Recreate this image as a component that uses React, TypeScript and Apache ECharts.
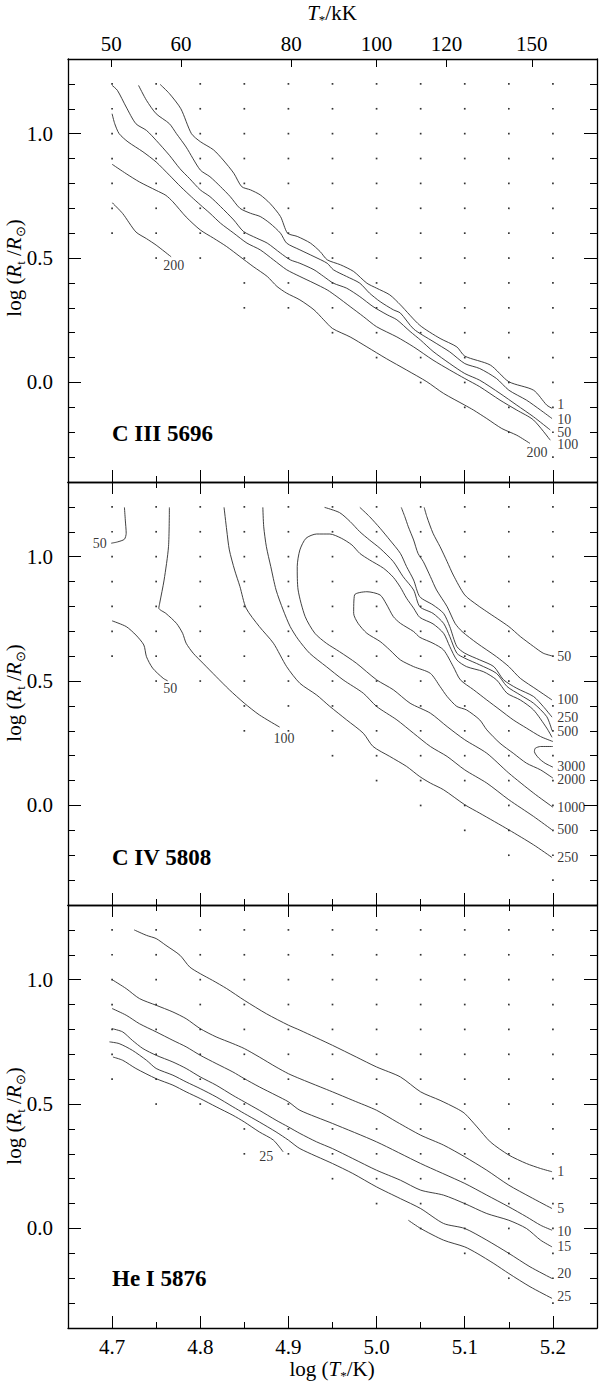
import React, { useEffect, useRef } from "react";
import * as echarts from "echarts";

const SERIF = '"Liberation Serif", "Times New Roman", serif';

// ---- model grid (dots) ----
const gridLogT = [4.7, 4.75, 4.8, 4.85, 4.9, 4.95, 5.0, 5.05, 5.1, 5.15, 5.2];
const gridLowLogR = [0.6, 0.5, 0.5, 0.3, 0.3, 0.2, 0.1, 0.0, -0.1, -0.2, -0.3];
const gridTopLogR = 1.2;

// ---- axis ticks ----
const xMajor = [4.7, 4.8, 4.9, 5.0, 5.1, 5.2];
const xMinor = [4.75, 4.85, 4.95, 5.05, 5.15];
const yMajor = [0, 0.5, 1.0];
const yMinor = [-0.3, -0.2, -0.1, 0.1, 0.2, 0.3, 0.4, 0.6, 0.7, 0.8, 0.9, 1.1, 1.2];
const topTkK = [50, 60, 80, 100, 120, 150];

// ---- C III 5696 contours ----
const c3_1 = [[4.7545,1.198],[4.765,1.161],[4.778,1.1],[4.79,1.0],[4.8,0.968],[4.815,0.935],[4.826,0.894],[4.838,0.841],[4.847,0.787],[4.857,0.774],[4.868,0.754],[4.879,0.72],[4.891,0.667],[4.899,0.6],[4.91,0.587],[4.925,0.56],[4.936,0.526],[4.944,0.493],[4.959,0.473],[4.974,0.446],[4.989,0.399],[5.0,0.379],[5.015,0.352],[5.027,0.312],[5.049,0.23],[5.072,0.177],[5.091,0.143],[5.1,0.106],[5.129,0.07],[5.15,0.003],[5.178,-0.031],[5.193,-0.091],[5.199,-0.104]];
const c3_10 = [[4.73,1.194],[4.739,1.134],[4.75,1.08],[4.765,1.04],[4.773,1.0],[4.784,0.946],[4.8,0.854],[4.811,0.827],[4.823,0.787],[4.834,0.747],[4.845,0.7],[4.857,0.68],[4.868,0.667],[4.879,0.64],[4.891,0.6],[4.898,0.56],[4.913,0.533],[4.929,0.506],[4.944,0.479],[4.951,0.453],[4.966,0.426],[4.981,0.399],[4.992,0.359],[5.004,0.325],[5.019,0.292],[5.027,0.279],[5.042,0.215],[5.064,0.165],[5.083,0.123],[5.1,0.076],[5.117,0.056],[5.136,0.016],[5.15,-0.031],[5.17,-0.071],[5.186,-0.111],[5.199,-0.145]];
const c3_50 = [[4.7,1.194],[4.706,1.174],[4.716,1.107],[4.727,1.04],[4.739,1.013],[4.75,0.973],[4.765,0.913],[4.777,0.859],[4.788,0.819],[4.8,0.774],[4.811,0.747],[4.823,0.707],[4.838,0.653],[4.849,0.607],[4.864,0.58],[4.876,0.56],[4.891,0.52],[4.902,0.493],[4.913,0.479],[4.929,0.453],[4.94,0.426],[4.951,0.399],[4.966,0.379],[4.981,0.345],[4.996,0.305],[5.012,0.272],[5.023,0.252],[5.038,0.205],[5.05,0.17],[5.064,0.125],[5.083,0.076],[5.1,0.036],[5.117,0.009],[5.14,-0.044],[5.159,-0.091],[5.178,-0.138],[5.197,-0.191]];
const c3_100 = [[4.7,1.08],[4.703,1.04],[4.708,1.0],[4.718,0.967],[4.735,0.927],[4.75,0.886],[4.765,0.833],[4.778,0.786],[4.79,0.746],[4.8,0.714],[4.811,0.68],[4.823,0.64],[4.838,0.6],[4.853,0.56],[4.868,0.533],[4.883,0.493],[4.898,0.453],[4.913,0.426],[4.929,0.399],[4.944,0.372],[4.955,0.345],[4.97,0.305],[4.985,0.265],[5.0,0.224],[5.023,0.183],[5.042,0.143],[5.064,0.09],[5.083,0.05],[5.1,0.016],[5.117,-0.017],[5.14,-0.071],[5.159,-0.111],[5.178,-0.151],[5.197,-0.232]];
const c3_200 = [[4.7,0.877],[4.716,0.839],[4.731,0.806],[4.75,0.772],[4.761,0.752],[4.769,0.726],[4.784,0.665],[4.8,0.613],[4.815,0.58],[4.83,0.546],[4.845,0.506],[4.86,0.466],[4.876,0.426],[4.887,0.386],[4.898,0.359],[4.913,0.332],[4.929,0.292],[4.94,0.252],[4.95,0.217],[4.97,0.183],[4.989,0.143],[5.011,0.096],[5.034,0.05],[5.057,0.003],[5.076,-0.044],[5.1,-0.091],[5.11,-0.111],[5.125,-0.145],[5.142,-0.185],[5.159,-0.212],[5.174,-0.245]];
const c3_200s = [[4.7,0.723],[4.712,0.679],[4.727,0.605],[4.739,0.578],[4.75,0.552],[4.767,0.505]];
const c3Labels = ["1", "10", "50", "100", "200", "200"];
const c3LabelX = [5.205, 5.205, 5.205, 5.205, 5.17, 4.758];
const c3LabelY = [-0.09, -0.147, -0.2, -0.25, -0.28, 0.471];

// ---- C IV 5808 contours ----
const c4_50a = [[4.714,1.198],[4.715,1.147],[4.716,1.094],[4.714,1.07],[4.706,1.059],[4.699,1.054]];
const c4_50b = [[4.7,0.742],[4.716,0.719],[4.727,0.685],[4.736,0.645],[4.739,0.598],[4.746,0.552],[4.758,0.511],[4.763,0.501]];
const c4_100a = [[4.765,1.198],[4.764,1.04],[4.759,0.906],[4.754,0.813],[4.753,0.793],[4.761,0.772],[4.773,0.732],[4.78,0.692],[4.784,0.652],[4.792,0.612],[4.803,0.572],[4.818,0.518],[4.833,0.465],[4.85,0.411],[4.867,0.364],[4.89,0.315]];
const c4_250a = [[4.827,1.198],[4.83,1.107],[4.833,1.027],[4.839,0.946],[4.845,0.88],[4.852,0.793],[4.867,0.719],[4.883,0.652],[4.898,0.558],[4.913,0.491],[4.932,0.444],[4.947,0.398],[4.966,0.344],[4.985,0.29],[4.996,0.237],[5.015,0.197],[5.034,0.157],[5.049,0.116],[5.061,0.09],[5.076,0.063],[5.1,0.003],[5.117,-0.031],[5.15,-0.098],[5.178,-0.158],[5.199,-0.209]];
const c4_500a = [[4.871,1.198],[4.872,1.12],[4.875,1.04],[4.88,0.96],[4.886,0.866],[4.894,0.786],[4.902,0.719],[4.911,0.668],[4.924,0.612],[4.943,0.558],[4.962,0.505],[4.985,0.451],[5.0,0.398],[5.023,0.344],[5.042,0.29],[5.061,0.237],[5.08,0.197],[5.1,0.143],[5.125,0.09],[5.15,0.023],[5.178,-0.044],[5.199,-0.098]];
const c4_1000 = [[5.199,0.274],[5.193,0.311],[5.178,0.384],[5.163,0.424],[5.148,0.451],[5.136,0.505],[5.121,0.538],[5.102,0.558],[5.091,0.585],[5.083,0.639],[5.076,0.692],[5.064,0.73],[5.049,0.756],[5.042,0.793],[5.034,0.833],[5.027,0.877],[5.019,0.917],[5.008,0.953],[4.992,0.987],[4.981,1.013],[4.972,1.047],[4.96,1.074],[4.947,1.091],[4.932,1.091],[4.92,1.074],[4.913,1.027],[4.91,0.96],[4.911,0.866],[4.919,0.759],[4.93,0.692],[4.943,0.652],[4.958,0.618],[4.977,0.572],[5.0,0.505],[5.019,0.465],[5.038,0.411],[5.061,0.371],[5.08,0.317],[5.1,0.264],[5.125,0.21],[5.15,0.13],[5.178,0.05],[5.2,-0.007]];
const c4_2000 = [[5.2,0.257],[5.186,0.277],[5.17,0.311],[5.155,0.344],[5.14,0.384],[5.125,0.424],[5.11,0.465],[5.095,0.505],[5.087,0.558],[5.076,0.625],[5.064,0.652],[5.049,0.676],[5.042,0.699],[5.027,0.732],[5.019,0.759],[5.011,0.81],[5.004,0.846],[4.989,0.859],[4.975,0.846],[4.974,0.772],[4.979,0.732],[4.989,0.692],[5.004,0.659],[5.015,0.625],[5.027,0.585],[5.042,0.558],[5.061,0.531],[5.072,0.478],[5.08,0.438],[5.091,0.398],[5.102,0.384],[5.117,0.344],[5.125,0.304],[5.14,0.25],[5.155,0.21],[5.17,0.17],[5.186,0.143],[5.2,0.11]];
const c4_3000 = [[5.2,0.237],[5.186,0.237],[5.18,0.23],[5.179,0.217],[5.184,0.19],[5.191,0.17],[5.2,0.154]];
const c4_250b = [[4.981,1.198],[4.992,1.161],[5.004,1.114],[5.015,1.067],[5.027,1.013],[5.034,0.96],[5.042,0.906],[5.049,0.839],[5.064,0.806],[5.076,0.772],[5.083,0.719],[5.091,0.639],[5.1,0.612],[5.117,0.585],[5.133,0.558],[5.144,0.505],[5.159,0.471],[5.178,0.438],[5.189,0.398],[5.199,0.355]];
const c4_500b = [[4.941,1.198],[4.958,1.177],[4.97,1.141],[4.981,1.1],[4.992,1.067],[5.004,1.033],[5.019,0.98],[5.03,0.92],[5.042,0.866],[5.049,0.799],[5.064,0.772],[5.076,0.732],[5.083,0.679],[5.091,0.612],[5.1,0.592],[5.117,0.565],[5.136,0.531],[5.148,0.478],[5.163,0.444],[5.178,0.411],[5.193,0.357],[5.199,0.301]];
const c4_100b = [[5.028,1.198],[5.032,1.161],[5.036,1.12],[5.042,1.067],[5.047,1.013],[5.053,0.98],[5.061,0.92],[5.068,0.866],[5.08,0.799],[5.089,0.732],[5.097,0.699],[5.114,0.652],[5.136,0.598],[5.15,0.558],[5.163,0.511],[5.182,0.465],[5.199,0.424]];
const c4_50c = [[5.054,1.198],[5.057,1.161],[5.064,1.094],[5.072,1.04],[5.08,0.98],[5.087,0.926],[5.1,0.846],[5.114,0.806],[5.125,0.779],[5.15,0.719],[5.163,0.679],[5.178,0.639],[5.189,0.612],[5.199,0.601]];
const c4Labels = ["50", "50", "100", "50", "100", "250", "500", "3000", "2000", "1000", "500", "250"];
const c4LabelX = [4.678, 4.758, 4.883, 5.205, 5.205, 5.205, 5.205, 5.205, 5.205, 5.205, 5.205, 5.205];
const c4LabelY = [1.052, 0.471, 0.27, 0.598, 0.424, 0.355, 0.299, 0.157, 0.103, -0.007, -0.098, -0.209];

// ---- He I 5876 contours ----
const h1_1 = [[4.725,1.2],[4.739,1.178],[4.75,1.165],[4.761,1.138],[4.777,1.098],[4.788,1.051],[4.8,1.024],[4.814,0.997],[4.83,0.964],[4.85,0.917],[4.875,0.863],[4.9,0.817],[4.913,0.797],[4.95,0.736],[4.977,0.689],[5.0,0.649],[5.027,0.609],[5.05,0.549],[5.072,0.515],[5.091,0.482],[5.1,0.462],[5.114,0.408],[5.129,0.348],[5.15,0.295],[5.17,0.261],[5.186,0.241],[5.199,0.228]];
const h1_5 = [[4.7,1.0],[4.716,0.964],[4.731,0.924],[4.75,0.897],[4.769,0.87],[4.784,0.843],[4.8,0.803],[4.818,0.77],[4.837,0.743],[4.85,0.723],[4.867,0.689],[4.886,0.649],[4.9,0.622],[4.913,0.602],[4.936,0.569],[4.95,0.549],[4.973,0.515],[5.0,0.475],[5.023,0.428],[5.05,0.375],[5.076,0.335],[5.1,0.288],[5.125,0.234],[5.15,0.174],[5.174,0.127],[5.199,0.08]];
const h1_10 = [[4.7,0.884],[4.716,0.857],[4.731,0.823],[4.75,0.79],[4.769,0.756],[4.784,0.73],[4.8,0.696],[4.818,0.663],[4.837,0.629],[4.85,0.602],[4.867,0.569],[4.886,0.535],[4.9,0.509],[4.913,0.475],[4.95,0.422],[5.0,0.348],[5.05,0.261],[5.1,0.181],[5.125,0.134],[5.15,0.087],[5.17,0.047],[5.186,0.013],[5.199,-0.007]];
const h1_15 = [[4.7,0.803],[4.712,0.79],[4.723,0.756],[4.735,0.723],[4.75,0.696],[4.769,0.669],[4.784,0.643],[4.8,0.609],[4.818,0.576],[4.837,0.535],[4.85,0.509],[4.867,0.475],[4.886,0.435],[4.9,0.408],[4.913,0.382],[4.932,0.348],[4.95,0.321],[4.973,0.281],[5.0,0.234],[5.027,0.194],[5.05,0.154],[5.076,0.134],[5.1,0.1],[5.125,0.06],[5.15,0.033],[5.17,0.0],[5.186,-0.047],[5.199,-0.074]];
const h1_20 = [[4.697,0.75],[4.708,0.743],[4.723,0.716],[4.739,0.676],[4.75,0.643],[4.769,0.616],[4.784,0.589],[4.8,0.562],[4.818,0.529],[4.837,0.489],[4.85,0.462],[4.867,0.428],[4.886,0.388],[4.9,0.355],[4.913,0.321],[4.95,0.261],[4.973,0.221],[5.0,0.167],[5.027,0.12],[5.05,0.08],[5.076,0.02],[5.1,0.0],[5.125,-0.047],[5.15,-0.1],[5.174,-0.154],[5.199,-0.201]];
const h1_25a = [[4.701,0.689],[4.712,0.676],[4.727,0.643],[4.75,0.602],[4.769,0.576],[4.784,0.549],[4.8,0.522],[4.818,0.489],[4.837,0.455],[4.85,0.428],[4.867,0.388],[4.883,0.355],[4.894,0.308]];
const h1_25b = [[5.036,0.033],[5.05,0.0],[5.076,-0.047],[5.1,-0.074],[5.114,-0.1],[5.133,-0.141],[5.15,-0.181],[5.174,-0.234],[5.199,-0.281]];
const h1Labels = ["1", "5", "10", "15", "20", "25", "25"];
const h1LabelX = [5.205, 5.205, 5.205, 5.205, 5.205, 5.205, 4.867];
const h1LabelY = [0.228, 0.08, -0.013, -0.074, -0.181, -0.274, 0.288];

const panelTitles = ["C III 5696", "C IV 5808", "He I 5876"];
const panelLines = [
  [c3_1, c3_10, c3_50, c3_100, c3_200, c3_200s],
  [c4_50a, c4_50b, c4_100a, c4_250a, c4_500a, c4_1000, c4_2000, c4_3000, c4_250b, c4_500b, c4_100b, c4_50c],
  [h1_1, h1_5, h1_10, h1_15, h1_20, h1_25a, h1_25b],
];
const panelLabels = [
  [c3Labels, c3LabelX, c3LabelY],
  [c4Labels, c4LabelX, c4LabelY],
  [h1Labels, h1LabelX, h1LabelY],
];

const GRID_LEFT = 68;
const GRID_W = 529;
const GRID_TOPS = [59, 482, 905];
const GRID_H = 423;
const X_MIN = 4.65, X_MAX = 5.25, Y_MIN = -0.4, Y_MAX = 1.3;

function buildOption() {
  const lineStyle = { color: "#000", width: 1.3 };
  const tickStyle = { color: "#000", width: 1 };
  const labelFont = { fontFamily: SERIF, fontSize: 21, color: "#000" };
  const grids: any[] = [];
  const xAxes: any[] = [];
  const yAxes: any[] = [];
  const series: any[] = [];

  const dots: number[][] = [];
  gridLogT.forEach((x, i) => {
    const lo = Math.round(gridLowLogR[i] * 10);
    const hi = Math.round(gridTopLogR * 10);
    for (let k = lo; k <= hi; k++) dots.push([x, k / 10]);
  });

  for (let gi = 0; gi < 3; gi++) {
    grids.push({ left: GRID_LEFT, top: GRID_TOPS[gi], width: GRID_W, height: GRID_H });
    const base = { type: "value", gridIndex: gi, min: X_MIN, max: X_MAX, splitLine: { show: false } };
    xAxes.push({
      ...base, position: "bottom",
      axisLine: { show: true, onZero: false, lineStyle },
      axisTick: { show: true, inside: true, length: 12, customValues: xMajor, lineStyle: tickStyle },
      axisLabel: gi === 2
        ? { show: true, customValues: xMajor, formatter: (v: number) => v.toFixed(1), margin: 8, ...labelFont }
        : { show: false },
    });
    xAxes.push({
      ...base, position: "bottom",
      axisLine: { show: false, onZero: false },
      axisTick: { show: true, inside: true, length: 6, customValues: xMinor, lineStyle: tickStyle },
      axisLabel: { show: false },
    });
    if (gi === 0) {
      const tv = topTkK.map((t) => Math.log10(t * 1000));
      xAxes.push({
        ...base, position: "top",
        axisLine: { show: true, onZero: false, lineStyle },
        axisTick: { show: true, inside: true, length: 8, customValues: tv, lineStyle: tickStyle },
        axisLabel: {
          show: true, customValues: tv, margin: 5,
          formatter: (v: number) => String(Math.round(Math.pow(10, v) / 1000)), ...labelFont,
        },
      });
      xAxes.push({ ...base, position: "top", axisLine: { show: false, onZero: false }, axisTick: { show: false }, axisLabel: { show: false } });
    } else {
      xAxes.push({
        ...base, position: "top",
        axisLine: { show: true, onZero: false, lineStyle },
        axisTick: { show: true, inside: true, length: 12, customValues: xMajor, lineStyle: tickStyle },
        axisLabel: { show: false },
      });
      xAxes.push({
        ...base, position: "top",
        axisLine: { show: false, onZero: false },
        axisTick: { show: true, inside: true, length: 6, customValues: xMinor, lineStyle: tickStyle },
        axisLabel: { show: false },
      });
    }
    const ybase = { type: "value", gridIndex: gi, min: Y_MIN, max: Y_MAX, splitLine: { show: false } };
    yAxes.push({
      ...ybase, position: "left",
      axisLine: { show: true, onZero: false, lineStyle },
      axisTick: { show: true, inside: true, length: 13, customValues: yMajor, lineStyle: tickStyle },
      axisLabel: { show: true, customValues: yMajor, formatter: (v: number) => v.toFixed(1), margin: 15, ...labelFont },
    });
    yAxes.push({
      ...ybase, position: "left",
      axisLine: { show: false, onZero: false },
      axisTick: { show: true, inside: true, length: 7, customValues: yMinor, lineStyle: tickStyle },
      axisLabel: { show: false },
    });
    yAxes.push({
      ...ybase, position: "right",
      axisLine: { show: true, onZero: false, lineStyle },
      axisTick: { show: true, inside: true, length: 13, customValues: yMajor, lineStyle: tickStyle },
      axisLabel: { show: false },
    });
    yAxes.push({
      ...ybase, position: "right",
      axisLine: { show: false, onZero: false },
      axisTick: { show: true, inside: true, length: 7, customValues: yMinor, lineStyle: tickStyle },
      axisLabel: { show: false },
    });

    const xi = gi * 4, yi = gi * 4;
    series.push({
      type: "scatter", xAxisIndex: xi, yAxisIndex: yi, data: dots,
      symbol: "rect", symbolSize: 1.7, itemStyle: { color: "#000" }, silent: true, z: 2,
    });
    panelLines[gi].forEach((pts) => {
      series.push({
        type: "line", xAxisIndex: xi, yAxisIndex: yi, data: pts,
        showSymbol: false, symbol: "none", smooth: 0.25,
        lineStyle: { color: "#2b2b2b", width: 0.9 }, silent: true, z: 3,
      });
    });
    const [txt, lx, ly] = panelLabels[gi] as any;
    series.push({
      type: "scatter", xAxisIndex: xi, yAxisIndex: yi, symbolSize: 0, silent: true, z: 4,
      data: (txt as string[]).map((t, k) => ({ value: [lx[k], ly[k]], name: t })),
      label: {
        show: true, position: "right", distance: 0,
        formatter: (p: any) => p.name,
        fontFamily: SERIF, fontSize: 14, lineHeight: 11, color: "#000",
      },
    });
  }

  const richBase = {
    n: { fontFamily: SERIF, fontSize: 21, lineHeight: 26, color: "#000" },
    i: { fontFamily: SERIF, fontSize: 21, fontStyle: "italic", lineHeight: 26, color: "#000" },
    s: { fontFamily: SERIF, fontSize: 13, lineHeight: 14, verticalAlign: "bottom", color: "#000" },
  };
  const graphics: any[] = [];
  graphics.push({
    type: "text", x: 332, y: 13,
    style: {
      text: "{i|T}{s|*}{n|/kK}", rich: richBase, fontFamily: SERIF, fontSize: 21, lineHeight: 26,
      align: "center", verticalAlign: "middle", textAlign: "center", textVerticalAlign: "middle",
    },
  });
  graphics.push({
    type: "text", x: 332, y: 1369,
    style: {
      text: "{n|log (}{i|T}{s|*}{n|/K)}", rich: richBase, fontFamily: SERIF, fontSize: 21, lineHeight: 26,
      align: "center", verticalAlign: "middle", textAlign: "center", textVerticalAlign: "middle",
    },
  });
  const yTitleY = [268, 693, 1116];
  const titleY = [433, 857, 1278];
  for (let gi = 0; gi < 3; gi++) {
    graphics.push({
      type: "text", x: 14, y: yTitleY[gi], rotation: Math.PI / 2,
      style: {
        text: "{n|log (}{i|R}{s|t}{n| /}{i|R}{s|⊙}{n|)}", rich: richBase, fontFamily: SERIF, fontSize: 21, lineHeight: 26,
        align: "center", verticalAlign: "middle", textAlign: "center", textVerticalAlign: "middle",
      },
    });
    graphics.push({
      type: "text", x: 112, y: titleY[gi],
      style: {
        text: panelTitles[gi], fontFamily: SERIF, fontSize: 23, fontWeight: "bold", fill: "#000",
        align: "left", verticalAlign: "middle", textAlign: "left", textVerticalAlign: "middle",
      },
    });
  }

  return {
    animation: false,
    backgroundColor: "#fff",
    grid: grids,
    xAxis: xAxes,
    yAxis: yAxes,
    series,
    graphic: graphics,
  };
}

export default function App() {
  const ref = useRef<HTMLDivElement>(null);
  useEffect(() => {
    if (!ref.current) return;
    const chart = echarts.init(ref.current, undefined, { renderer: "svg" });
    chart.setOption(buildOption() as any);
    return () => chart.dispose();
  }, []);
  return (
    <div
      ref={ref}
      style={{ position: "absolute", left: 0, top: 0, width: 600, height: 1383, background: "#fff" }}
    />
  );
}
